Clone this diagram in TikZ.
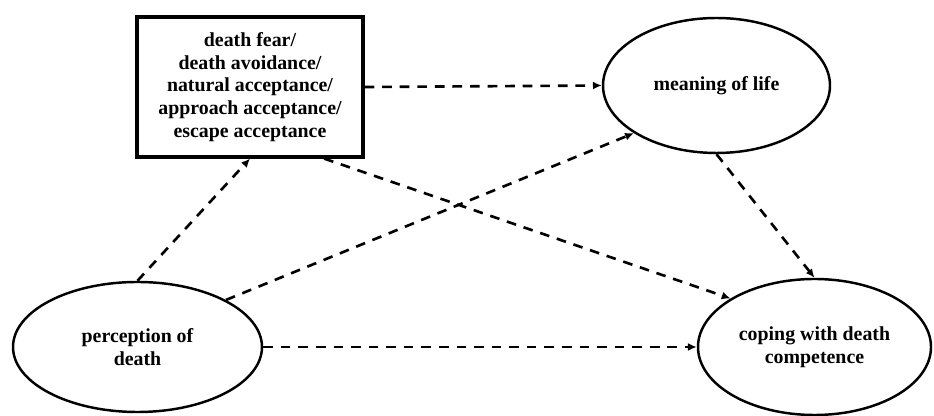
\documentclass[tikz,border=0pt]{standalone}
\usepackage{fontspec}
\setmainfont{Liberation Serif}
\usepackage{tikz}
\usetikzlibrary{arrows.meta, shapes.geometric}

\begin{document}
\begin{tikzpicture}[->,>={Latex[length=5pt,width=4.5pt]},
	every edge/.append style={line width=1.5pt,dash pattern=on 5.5pt off 4.5pt},
	var/.style={ellipse,draw,line width=1.4pt,inner sep=0pt,align=center,font=\bfseries\fontsize{11.3}{13}\selectfont},
	fac/.style={rectangle,draw,line width=1.8pt,inner sep=0pt,align=center,font=\bfseries\fontsize{11.3}{13}\selectfont}]
	\useasboundingbox (0,0) rectangle (18.68,8.32);
	\node[fac,minimum width=4.52cm,minimum height=2.80cm] (B) at (5.00,6.58) {death fear/\\death avoidance/\\natural acceptance/\\approach acceptance/\\escape acceptance};
	\node[var,minimum width=4.54cm,minimum height=2.70cm] (M) at (14.33,6.61) {meaning of life};
	\node[var,minimum width=4.98cm,minimum height=2.60cm] (P) at (2.75,1.38) {perception of\\death};
	\node[var,minimum width=4.66cm,minimum height=2.72cm] (C) at (16.29,1.38) {coping with death\\competence};
	\path(P.north)
		edge (B.south);
	\path(P.28)
		edge (M.210);
	\path(P.east)
		edge (C.west);
	\path(B.east)
		edge (M.west);
	\path(B.-44)
		edge (C.150);
	\path(M.south)
		edge (C.north);
\end{tikzpicture}
\end{document}
